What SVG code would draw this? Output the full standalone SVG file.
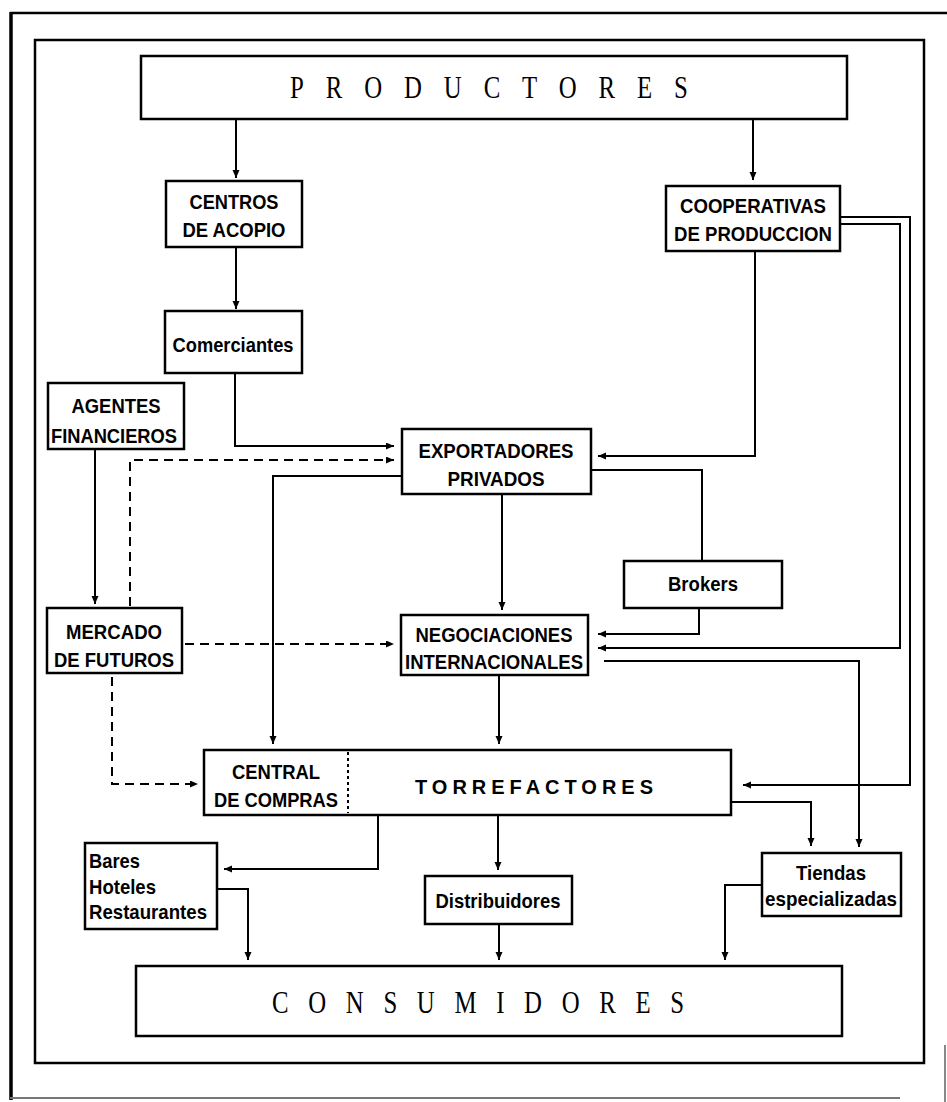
<svg xmlns="http://www.w3.org/2000/svg" width="947" height="1102" viewBox="0 0 947 1102">
<style>
.box{fill:#fff;stroke:#000;stroke-width:2.5}
.ln{fill:none;stroke:#000;stroke-width:2}
.arr{marker-end:url(#ah)}
.dash{stroke-dasharray:9 6}
.t{font-family:"Liberation Sans",Arial,sans-serif;font-weight:bold;font-size:21px;fill:#000;text-anchor:middle}
.tl{text-anchor:start}
.big{font-family:"Liberation Serif","Times New Roman",serif;font-size:31px;fill:#000}
.torr{font-family:"Liberation Sans",Arial,sans-serif;font-weight:bold;font-size:20px;fill:#000}
</style>
<defs>
<marker id="ah" markerUnits="userSpaceOnUse" markerWidth="9" markerHeight="8" refX="8" refY="3.5" orient="auto">
<path d="M0,0 L8,3.5 L0,7 z" fill="#000"/>
</marker>
</defs>
<rect width="947" height="1102" fill="#fff"/>
<g id="frame">
<line x1="11" y1="12" x2="11" y2="1100" stroke="#000" stroke-width="3.5"/>
<line x1="10" y1="13" x2="947" y2="13" stroke="#000" stroke-width="2.5"/>
<line x1="10" y1="1098" x2="900" y2="1098" stroke="#777" stroke-width="2"/>
<line x1="945" y1="1045" x2="945" y2="1102" stroke="#888" stroke-width="2"/>
<rect x="35" y="40" width="889" height="1023" fill="none" stroke="#000" stroke-width="2.5"/>
</g>
<g id="connectors">
<path class="ln arr" d="M236,120 V178"/>
<path class="ln arr" d="M753,120 V180"/>
<path class="ln arr" d="M236,247 V309"/>
<path class="ln arr" d="M235,373 V446 H394"/>
<path class="ln arr" d="M755,251 V456 H598"/>
<path class="ln arr" d="M840,224 H900 V648 H598"/>
<path class="ln arr" d="M840,217 H910 V785 H743"/>
<path class="ln arr" d="M95,449 V604"/>
<path class="ln arr dash" d="M130,606 V460 H394"/>
<path class="ln arr dash" d="M185,644 H394"/>
<path class="ln arr dash" d="M112,677 V784 H198"/>
<path class="ln arr" d="M402,476 H273 V744"/>
<path class="ln" d="M591,470 H702 V561"/>
<path class="ln arr" d="M502,494 V610"/>
<path class="ln arr" d="M699,608 V634 H598"/>
<path class="ln arr" d="M604,661 H859 V847"/>
<path class="ln arr" d="M499,675 V744"/>
<path class="ln arr" d="M731,802 H811 V846"/>
<path class="ln arr" d="M378,815 V869 H224"/>
<path class="ln arr" d="M498,815 V870"/>
<path class="ln arr" d="M217,889 H248 V960"/>
<path class="ln arr" d="M499,924 V960"/>
<path class="ln arr" d="M762,885 H725 V960"/>
</g>
<g id="productores">
<rect class="box" x="141" y="56" width="706" height="63"/>
<text class="big" transform="scale(0.8,1)" x="362.5" y="98" letter-spacing="27.4">PRODUCTORES</text>
</g>
<g id="centros">
<rect class="box" x="166" y="181" width="136" height="66"/>
<text class="t" x="234" y="209" textLength="89" lengthAdjust="spacingAndGlyphs">CENTROS</text>
<text class="t" x="234" y="237" textLength="103" lengthAdjust="spacingAndGlyphs">DE ACOPIO</text>
</g>
<g id="cooperativas">
<rect class="box" x="666" y="186" width="174" height="65"/>
<text class="t" x="753" y="213" textLength="146" lengthAdjust="spacingAndGlyphs">COOPERATIVAS</text>
<text class="t" x="753" y="241" textLength="158" lengthAdjust="spacingAndGlyphs">DE PRODUCCION</text>
</g>
<g id="comerciantes">
<rect class="box" x="165" y="311" width="137" height="62"/>
<text class="t" x="233" y="352" textLength="121" lengthAdjust="spacingAndGlyphs">Comerciantes</text>
</g>
<g id="agentes">
<rect class="box" x="48" y="383" width="136" height="66"/>
<text class="t" x="116" y="413" textLength="89" lengthAdjust="spacingAndGlyphs">AGENTES</text>
<text class="t" x="114" y="443" textLength="126" lengthAdjust="spacingAndGlyphs">FINANCIEROS</text>
</g>
<g id="exportadores">
<rect class="box" x="402" y="429" width="189" height="65"/>
<text class="t" x="496" y="458" textLength="155" lengthAdjust="spacingAndGlyphs">EXPORTADORES</text>
<text class="t" x="496" y="486" textLength="97" lengthAdjust="spacingAndGlyphs">PRIVADOS</text>
</g>
<g id="brokers">
<rect class="box" x="624" y="561" width="158" height="47"/>
<text class="t" x="703" y="591" textLength="70" lengthAdjust="spacingAndGlyphs">Brokers</text>
</g>
<g id="mercado">
<rect class="box" x="47" y="608" width="135" height="65"/>
<text class="t" x="114" y="639" textLength="96" lengthAdjust="spacingAndGlyphs">MERCADO</text>
<text class="t" x="114" y="667" textLength="120" lengthAdjust="spacingAndGlyphs">DE FUTUROS</text>
</g>
<g id="negociaciones">
<rect class="box" x="401" y="615" width="187" height="60"/>
<text class="t" x="494" y="642" textLength="157" lengthAdjust="spacingAndGlyphs">NEGOCIACIONES</text>
<text class="t" x="494" y="669" textLength="178" lengthAdjust="spacingAndGlyphs">INTERNACIONALES</text>
</g>
<g id="torrefactores">
<rect class="box" x="204" y="750" width="527" height="65"/>
<line x1="348" y1="752" x2="348" y2="813" stroke="#000" stroke-width="2" stroke-dasharray="3 3"/>
<text class="t" x="276" y="779" textLength="88" lengthAdjust="spacingAndGlyphs">CENTRAL</text>
<text class="t" x="276" y="807" textLength="124" lengthAdjust="spacingAndGlyphs">DE COMPRAS</text>
<text class="torr" x="415" y="794" textLength="238" lengthAdjust="spacing">TORREFACTORES</text>
</g>
<g id="bares">
<rect class="box" x="85" y="843" width="132" height="86"/>
<text class="t tl" x="89" y="868" textLength="51" lengthAdjust="spacingAndGlyphs">Bares</text>
<text class="t tl" x="89" y="894" textLength="67" lengthAdjust="spacingAndGlyphs">Hoteles</text>
<text class="t tl" x="89" y="919" textLength="118" lengthAdjust="spacingAndGlyphs">Restaurantes</text>
</g>
<g id="distribuidores">
<rect class="box" x="425" y="876" width="147" height="48"/>
<text class="t" x="498" y="908" textLength="125" lengthAdjust="spacingAndGlyphs">Distribuidores</text>
</g>
<g id="tiendas">
<rect class="box" x="762" y="853" width="139" height="63"/>
<text class="t" x="831" y="880" textLength="70" lengthAdjust="spacingAndGlyphs">Tiendas</text>
<text class="t" x="831" y="906" textLength="132" lengthAdjust="spacingAndGlyphs">especializadas</text>
</g>
<g id="consumidores">
<rect class="box" x="136" y="966" width="706" height="70"/>
<text class="big" transform="scale(0.8,1)" x="340" y="1013" letter-spacing="24.6">CONSUMIDORES</text>
</g>
</svg>
